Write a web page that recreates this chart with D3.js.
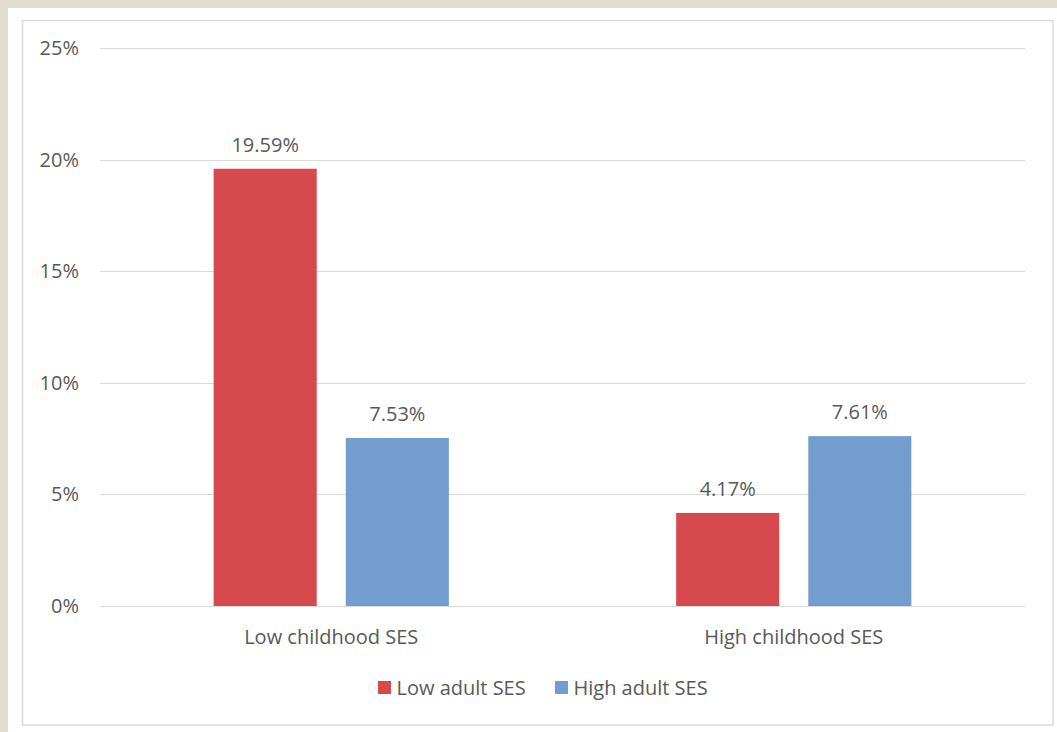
<!DOCTYPE html>
<html>
<head>
<meta charset="utf-8">
<script src="https://cdn.jsdelivr.net/npm/d3@7"></script>
<style>
  html, body { margin: 0; padding: 0; background: #e2ddd1; }
  #chart { position: absolute; left: 0; top: 0; }
  text { font-family: "Open Sans", "Noto Sans", sans-serif; fill: #595959; }
</style>
</head>
<body>
<div id="chart"></div>
<script>
// Chart data
const groups = ["Low childhood SES", "High childhood SES"];
const series = ["Low adult SES", "High adult SES"];
const lowAdult = [19.59, 4.17];
const highAdult = [7.53, 7.61];
const yTicks = [0, 5, 10, 15, 20, 25];

const colors = ["#d64a4d", "#729dce"];
const fontSize = "20px";

const W = 1057, H = 732;
const margin = {top: 48, right: 32, bottom: 126, left: 100};
const width = W - margin.left - margin.right;
const height = H - margin.top - margin.bottom;

const root = d3.select("#chart")
    .append("svg")
    .attr("width", W)
    .attr("height", H);

// white page and chart frame
root.append("rect")
    .attr("x", 8).attr("y", 8)
    .attr("width", W - 8).attr("height", H - 8)
    .attr("fill", "#ffffff");

root.append("rect")
    .attr("x", 22.5).attr("y", 20.5)
    .attr("width", 1030.5).attr("height", 704.5)
    .attr("fill", "none")
    .attr("stroke", "#dadada")
    .attr("stroke-width", 1.5);

const svg = root.append("g")
    .attr("transform", `translate(${margin.left}, ${margin.top})`);

const y = d3.scaleLinear()
    .domain([0, 25])
    .range([height, 0]);

const x0 = d3.scaleBand()
    .domain(groups)
    .range([0, width])
    .padding(0);

const x1 = d3.scaleBand()
    .domain(series)
    .range([0, x0.bandwidth()])
    .paddingInner(0.22)
    .paddingOuter(0.86);

const color = d3.scaleOrdinal().domain(series).range(colors);

// gridlines
svg.append("g")
    .selectAll("line")
    .data(yTicks)
    .enter()
    .append("line")
    .attr("x1", 0)
    .attr("x2", width)
    .attr("y1", d => Math.round(y(d)) + 0.5)
    .attr("y2", d => Math.round(y(d)) + 0.5)
    .attr("stroke", "#d9d9d9")
    .attr("stroke-width", 1);

// y axis labels
const yAxis = svg.append("g")
    .call(d3.axisLeft(y).tickValues(yTicks).tickFormat(d => d + "%").tickSize(0).tickPadding(21));
yAxis.select(".domain").remove();
yAxis.selectAll("text")
    .style("font-size", fontSize)
    .attr("fill", "#595959");

// x axis labels
const xAxis = svg.append("g")
    .attr("transform", `translate(0, ${height})`)
    .call(d3.axisBottom(x0).tickSize(0));
xAxis.select(".domain").remove();
xAxis.selectAll("text")
    .attr("dy", null)
    .attr("y", 38)
    .style("font-size", fontSize)
    .attr("fill", "#595959");

// bars
const barData = groups.flatMap((g, i) => [
  {group: g, series: series[0], value: lowAdult[i]},
  {group: g, series: series[1], value: highAdult[i]}
]);

const barGroups = svg.selectAll(".bar")
    .data(barData)
    .enter()
    .append("g")
    .attr("transform", d => `translate(${x0(d.group)},0)`);

barGroups.append("rect")
    .attr("x", d => x1(d.series))
    .attr("y", d => y(d.value))
    .attr("width", x1.bandwidth())
    .attr("height", d => height - y(d.value))
    .attr("fill", d => color(d.series));

barGroups.append("text")
    .attr("x", d => x1(d.series) + x1.bandwidth() / 2)
    .attr("y", d => y(d.value) - 17)
    .attr("text-anchor", "middle")
    .style("font-size", fontSize)
    .text(d => d.value.toFixed(2) + "%");

// legend
const legend = root.append("g")
    .attr("transform", "translate(378, 681)");

const legendX = [0, 177];
series.forEach((s, i) => {
  legend.append("rect")
      .attr("x", legendX[i])
      .attr("y", 0)
      .attr("width", 13)
      .attr("height", 13)
      .attr("fill", color(s));

  legend.append("text")
      .attr("x", legendX[i] + 18.5)
      .attr("y", 14)
      .style("font-size", fontSize)
      .text(s);
});
</script>
</body>
</html>
